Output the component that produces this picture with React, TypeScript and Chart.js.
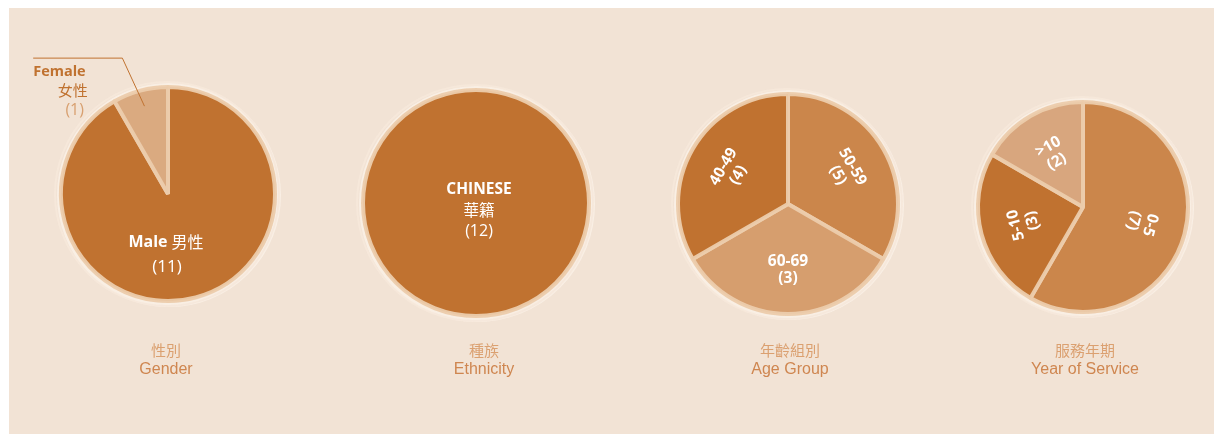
import React, { useEffect, useRef } from "react";
import { Chart, registerables } from "chart.js";
Chart.register(...registerables);

// ---- data ----
const genderLabels = ["Male 男性", "Female 女性"];
const genderCounts = [11, 1];
const ethnicityLabels = ["CHINESE", "華籍"];
const ethnicityCounts = [12];
const ageLabels = ["50-59", "60-69", "40-49"];
const ageCounts = [5, 3, 4];
const ageDrawnShares = [4, 4, 4]; // the reference draws three equal slices
const serviceLabels = ["0-5", "5-10", ">10"];
const serviceCounts = [7, 3, 2];
const titlesZh = ["性別", "種族", "年齡組別", "服務年期"];
const titlesEn = ["Gender", "Ethnicity", "Age Group", "Year of Service"];

// ---- styles ----
const BG = "#F2E3D5";
const DARK = "#C07230";
const MID = "#CB864B";
const LIGHT = "#D69E6E";
const PALE = "#DAAA80";
const LABEL_FONT = '"Open Sans", "Noto Sans CJK TC", sans-serif';
const CJK = '"Noto Sans CJK TC", "Open Sans", sans-serif';

type Arc = any;
type Drawer = (ctx: CanvasRenderingContext2D, arcs: Arc[]) => void;

function arcProps(arc: Arc) {
  return arc.getProps(["x", "y", "startAngle", "endAngle", "outerRadius"], true);
}

function tangentLabels(names: string[], counts: number[], dist: number): Drawer {
  return (ctx, arcs) => {
    arcs.forEach((arc, i) => {
      const { x, y, startAngle, endAngle, outerRadius } = arcProps(arc);
      const mid = (startAngle + endAngle) / 2;
      const px = x + Math.cos(mid) * outerRadius * dist;
      const py = y + Math.sin(mid) * outerRadius * dist;
      let deg = ((mid * 180) / Math.PI + 90) % 360;
      if (deg > 180) deg -= 360;
      if (deg > 150) deg -= 180;
      if (deg < -150) deg += 180;
      ctx.save();
      ctx.translate(px, py);
      ctx.rotate((deg * Math.PI) / 180);
      ctx.fillStyle = "#ffffff";
      ctx.textAlign = "center";
      ctx.textBaseline = "middle";
      ctx.font = `bold 15.5px ${LABEL_FONT}`;
      ctx.fillText(names[i], 0, -8.5);
      ctx.fillText(`(${counts[i]})`, 0, 8.5);
      ctx.restore();
    });
  };
}

const genderDrawer: Drawer = (ctx, arcs) => {
  const male = arcProps(arcs[0]);
  const female = arcProps(arcs[1]);
  const { x, y, outerRadius: r } = male;
  ctx.save();
  ctx.textBaseline = "middle";
  // Male label
  const [mEn, mZh] = genderLabels[0].split(" ");
  ctx.font = `bold 16px ${LABEL_FONT}`;
  const w1 = ctx.measureText(mEn + " ").width;
  ctx.font = `16px ${CJK}`;
  const w2 = ctx.measureText(mZh).width;
  const startX = x - 2 - (w1 + w2) / 2;
  ctx.fillStyle = "#ffffff";
  ctx.textAlign = "left";
  ctx.font = `bold 16px ${LABEL_FONT}`;
  ctx.fillText(mEn, startX, y + r * 0.45);
  ctx.font = `16px ${CJK}`;
  ctx.fillText(mZh, startX + w1, y + r * 0.45);
  ctx.textAlign = "center";
  ctx.font = `17px ${LABEL_FONT}`;
  ctx.fillText(`(${genderCounts[0]})`, x - 1, y + r * 0.68);

  // Female label outside with leader line
  const mid = (female.startAngle + female.endAngle) / 2;
  const ex = x + Math.cos(mid) * r * 0.85;
  const ey = y + Math.sin(mid) * r * 0.85;
  const topY = y - r * 1.27;
  const elbowX = ex - (ey - topY) * 0.46;
  ctx.strokeStyle = DARK;
  ctx.lineWidth = 1;
  ctx.beginPath();
  ctx.moveTo(x - r * 1.26, topY);
  ctx.lineTo(elbowX, topY);
  ctx.lineTo(ex, ey);
  ctx.stroke();
  const [fEn, fZh] = genderLabels[1].split(" ");
  const rx = x - r * 0.76;
  ctx.fillStyle = DARK;
  ctx.textAlign = "right";
  ctx.font = `bold 14.5px ${LABEL_FONT}`;
  ctx.fillText(fEn, rx - 1, y - r * 1.14);
  ctx.font = `15px ${CJK}`;
  ctx.fillText(fZh, rx + 1, y - r * 0.97);
  ctx.fillStyle = "#D8A070";
  ctx.textAlign = "center";
  ctx.font = `16px ${LABEL_FONT}`;
  ctx.fillText(`(${genderCounts[1]})`, rx - 12, y - r * 0.78);
  ctx.restore();
};

const ethnicityDrawer: Drawer = (ctx, arcs) => {
  const { x, y } = arcProps(arcs[0]);
  ctx.save();
  ctx.fillStyle = "#ffffff";
  ctx.textAlign = "center";
  ctx.textBaseline = "middle";
  ctx.font = `bold 15.5px ${LABEL_FONT}`;
  ctx.fillText(ethnicityLabels[0], x + 3, y - 13);
  ctx.font = `15.5px ${CJK}`;
  ctx.fillText(ethnicityLabels[1], x + 3, y + 7);
  ctx.font = `16px ${LABEL_FONT}`;
  ctx.fillText(`(${ethnicityCounts[0]})`, x + 3, y + 28);
  ctx.restore();
};

type Spec = {
  cx: number;
  cy: number;
  r: number;
  size: number;
  values: number[];
  colors: string[];
  border: number;
  draw: Drawer;
};

function PieCanvas({ spec }: { spec: Spec }) {
  const ref = useRef<HTMLCanvasElement | null>(null);
  useEffect(() => {
    if (!ref.current) return;
    const rimPlugin = {
      id: "rimAndLabels",
      beforeDatasetsDraw(chart: any) {
        const arcs = chart.getDatasetMeta(0).data;
        if (!arcs.length) return;
        const { x, y, outerRadius } = arcProps(arcs[0]);
        const ctx = chart.ctx;
        ctx.save();
        ctx.strokeStyle = "rgba(250,240,230,0.9)";
        ctx.lineWidth = 4;
        ctx.beginPath();
        ctx.arc(x + 1, y + 1, outerRadius + 3, 0, Math.PI * 2);
        ctx.stroke();
        ctx.strokeStyle = "rgba(246,232,218,0.9)";
        ctx.lineWidth = 2;
        ctx.beginPath();
        ctx.arc(x - 1, y, outerRadius + 5, 0, Math.PI * 2);
        ctx.stroke();
        ctx.restore();
      },
      afterDatasetsDraw(chart: any) {
        const arcs = chart.getDatasetMeta(0).data;
        if (spec.border === 0 && arcs.length) {
          const { x, y, outerRadius } = arcProps(arcs[0]);
          const ctx = chart.ctx;
          ctx.save();
          ctx.strokeStyle = "rgba(236,204,172,0.95)";
          ctx.lineWidth = 4;
          ctx.beginPath();
          ctx.arc(x, y, outerRadius, 0, Math.PI * 2);
          ctx.stroke();
          ctx.restore();
        }
        spec.draw(chart.ctx, arcs);
      },
    };
    const chart = new Chart(ref.current, {
      type: "pie",
      data: {
        labels: spec.values.map((_, i) => String(i)),
        datasets: [
          {
            data: spec.values,
            backgroundColor: spec.colors,
            borderColor: "rgba(236,204,172,0.95)",
            borderWidth: spec.border,
          },
        ],
      },
      options: {
        responsive: false,
        animation: false,
        radius: spec.r,
        layout: { padding: 0 },
        plugins: { legend: { display: false }, tooltip: { enabled: false } },
      } as any,
      plugins: [rimPlugin],
    });
    return () => chart.destroy();
  }, [spec]);
  return (
    <canvas
      ref={ref}
      width={spec.size}
      height={spec.size}
      style={{
        position: "absolute",
        left: spec.cx - spec.size / 2,
        top: spec.cy - spec.size / 2,
        width: spec.size,
        height: spec.size,
      }}
    />
  );
}

const specs: Spec[] = [
  { cx: 168, cy: 194, r: 107, size: 300, values: genderCounts, colors: [DARK, PALE], border: 4, draw: genderDrawer },
  { cx: 476, cy: 203, r: 113, size: 250, values: ethnicityCounts, colors: [DARK], border: 0, draw: ethnicityDrawer },
  {
    cx: 788,
    cy: 204,
    r: 110,
    size: 250,
    values: ageDrawnShares,
    colors: [MID, LIGHT, DARK],
    border: 4,
    draw: tangentLabels(ageLabels, ageCounts, 0.6),
  },
  {
    cx: 1083,
    cy: 207,
    r: 105,
    size: 250,
    values: serviceCounts,
    colors: [MID, DARK, "#D8A67E"],
    border: 4,
    draw: tangentLabels(serviceLabels, serviceCounts, 0.58),
  },
];

const titleX = [166, 484, 790, 1085];

export default function App() {
  return (
    <div style={{ position: "fixed", left: 0, top: 0, width: 1214, height: 434, background: "#ffffff" }}>
      <div style={{ position: "absolute", left: 9, top: 8, right: 0, bottom: 0, background: BG }} />
      {specs.map((s, i) => (
        <PieCanvas key={i} spec={s} />
      ))}
      {titlesZh.map((t, i) => (
        <div
          key={"zh" + i}
          style={{
            position: "absolute",
            left: titleX[i] - 100,
            width: 200,
            top: 340,
            textAlign: "center",
            fontFamily: '"Noto Sans CJK TC", sans-serif',
            fontSize: 15,
            lineHeight: "20px",
            color: "#DBA070",
          }}
        >
          {t}
        </div>
      ))}
      {titlesEn.map((t, i) => (
        <div
          key={"en" + i}
          style={{
            position: "absolute",
            left: titleX[i] - 100,
            width: 200,
            top: 359,
            textAlign: "center",
            fontFamily: '"Liberation Sans", Arial, sans-serif',
            fontSize: 16,
            lineHeight: "20px",
            color: "#CF8650",
          }}
        >
          {t}
        </div>
      ))}
    </div>
  );
}
